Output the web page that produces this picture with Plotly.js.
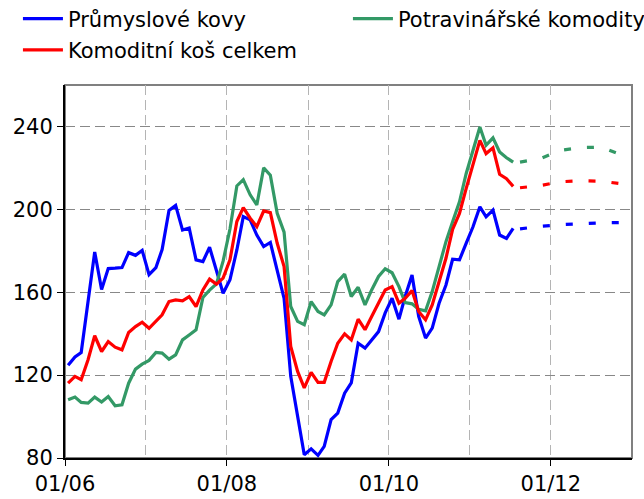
<!DOCTYPE html>
<html>
<head>
<meta charset="utf-8">
<script src="https://cdn.plot.ly/plotly-3.0.1.min.js"></script>
<style>html,body{margin:0;padding:0;background:#fff}#chart{width:644px;height:499px}</style>
</head>
<body>
<div id="chart"></div>
<script>
// Months of actual data (plotted mid-month)
const months = [
 "2006-01","2006-02","2006-03","2006-04","2006-05","2006-06","2006-07","2006-08","2006-09","2006-10","2006-11","2006-12",
 "2007-01","2007-02","2007-03","2007-04","2007-05","2007-06","2007-07","2007-08","2007-09","2007-10","2007-11","2007-12",
 "2008-01","2008-02","2008-03","2008-04","2008-05","2008-06","2008-07","2008-08","2008-09","2008-10","2008-11","2008-12",
 "2009-01","2009-02","2009-03","2009-04","2009-05","2009-06","2009-07","2009-08","2009-09","2009-10","2009-11","2009-12",
 "2010-01","2010-02","2010-03","2010-04","2010-05","2010-06","2010-07","2010-08","2010-09","2010-10","2010-11","2010-12",
 "2011-01","2011-02","2011-03","2011-04","2011-05","2011-06","2011-07"
];
// Průmyslové kovy
const kovy = [
 124.8,128.8,130.9,155.0,179.4,161.3,171.4,171.6,171.9,179.1,177.8,180.2,
 168.5,171.9,180.6,199.5,201.9,190.0,191.0,175.6,174.8,181.7,170.8,159.5,
 166.0,180.4,196.5,194.9,187.6,182.0,184.0,171.0,157.0,119.4,100.1,81.6,
 84.4,81.3,85.6,98.5,101.7,111.3,116.2,135.4,133.0,137.0,141.0,150.0,
 157.1,147.0,157.9,168.3,148.3,137.9,142.7,154.7,163.5,175.9,175.6,183.6,
 191.6,201.2,196.4,199.6,187.6,186.0,190.8
];
// Potravinářské komodity
const potraviny = [
 108.1,109.4,106.8,106.5,109.4,107.0,109.7,105.2,105.7,116.1,122.9,125.3,
 127.1,130.9,130.6,127.7,129.8,137.0,139.4,141.9,157.5,161.0,164.0,175.0,
 190.5,211.3,214.3,207.0,202.1,220.0,216.5,198.1,189.0,153.1,145.9,144.3,
 155.5,150.7,149.1,153.9,165.1,168.7,157.9,162.4,153.9,161.1,167.6,171.3,
 169.4,162.7,155.0,154.4,151.8,151.0,160.3,172.4,184.4,194.0,203.6,217.2,
 228.5,239.7,230.9,234.5,227.7,224.9,222.8
];
// Komoditní koš celkem
const kos = [
 116.1,119.4,117.8,127.4,139.0,131.4,136.2,133.5,132.2,140.6,143.4,145.5,
 142.6,146.2,149.1,155.5,156.3,155.8,157.9,153.1,161.1,166.3,163.9,166.8,
 175.6,194.1,200.8,195.7,191.6,199.2,198.4,183.6,172.4,133.8,121.8,113.8,
 121.3,116.5,116.5,126.6,135.4,139.9,137.0,147.0,141.9,148.3,154.7,161.1,
 162.7,154.7,157.1,160.8,150.7,146.7,153.9,165.1,176.4,190.3,198.0,210.0,
 222.0,233.3,226.9,229.7,216.9,214.8,211.1
];
// Forecast (dashed)
const fcMonths = ["2011-08","2011-11","2012-02","2012-05","2012-08","2012-11"];
const kovyFc = [190.6,191.8,192.6,193.2,193.5,193.6];
const potravinyFc = [222.8,224.5,228.5,229.8,230.0,226.2];
const kosFc = [210.4,211.5,213.3,213.8,213.6,212.3];

const names = ["Průmyslové kovy","Potravinářské komodity","Komoditní koš celkem"];
const colors = {kovy:"#0000FF", potraviny:"#339966", kos:"#FF0000"};

const mid = m => m + "-15";
const xs = months.map(mid);
const xf = fcMonths.map(mid);
const W = 3.2;
const dashPat = "7px,16px";

const traces = [
 {x: xs, y: kovy, name: names[0], mode:"lines", legend:"legend", legendgroup:"a", line:{color:colors.kovy, width:W}},
 {x: xs, y: potraviny, name: names[1], mode:"lines", legend:"legend2", legendgroup:"c", line:{color:colors.potraviny, width:W}},
 {x: xs, y: kos, name: names[2], mode:"lines", legend:"legend", legendgroup:"b", line:{color:colors.kos, width:W}},
 {x: xf, y: kovyFc, mode:"lines", showlegend:false, line:{color:colors.kovy, width:W, dash:dashPat}},
 {x: xf, y: potravinyFc, mode:"lines", showlegend:false, line:{color:colors.potraviny, width:W, dash:dashPat}},
 {x: xf, y: kosFc, mode:"lines", showlegend:false, line:{color:colors.kos, width:W, dash:dashPat}}
];

const F = "DejaVu Sans, Verdana, sans-serif";
const legBase = {
  orientation: "v", xanchor: "left", yanchor: "top", y: 1.232,
  font: {family: F, size: 21, color: "#000"},
  bgcolor: "rgba(0,0,0,0)", borderwidth: 0, itemwidth: 40,
  traceorder: "grouped", tracegroupgap: 1
};
const layout = {
 width: 644, height: 499,
 paper_bgcolor: "#fff", plot_bgcolor: "#fff",
 margin: {l: 65, r: 12, t: 85, b: 41, autoexpand: false},
 font: {family: F, size: 21, color: "#000"},
 showlegend: true,
 legend: Object.assign({}, legBase, {x: -0.083}),
 legend2: Object.assign({}, legBase, {x: 0.499}),
 xaxis: {
   type: "date", range: ["2006-01-01","2013-01-01"],
   tickformat: "%m/%y", dtick: "M24", tick0: "2006-01-01",
   ticks: "outside", ticklen: 6, tickcolor: "#000", tickwidth: 1,
   showline: true, linecolor: "#000", linewidth: 2,
   showgrid: true, gridcolor: "#b4b4b4", gridwidth: 1, griddash: "10px,5px",
   minor: {dtick: "M12", tick0: "2006-01-01", showgrid: true, gridcolor: "#b4b4b4", gridwidth: 1, griddash: "10px,5px", ticks: ""},
   zeroline: false, tickfont: {family: F, size: 21}
 },
 yaxis: {
   range: [80, 260], dtick: 40, tick0: 80,
   ticks: "outside", ticklen: 6, tickcolor: "#000", tickwidth: 1,
   showline: true, linecolor: "#000", linewidth: 2,
   showgrid: true, gridcolor: "#888", gridwidth: 1, griddash: "10px,5px",
   zeroline: false, tickfont: {family: F, size: 21}
 },
 shapes: [
   {type: "rect", xref: "paper", yref: "paper", x0: 0, x1: 1, y0: 0, y1: 1,
    line: {color: "#808080", width: 2}, layer: "below"}
 ]
};

Plotly.newPlot("chart", traces, layout, {displayModeBar: false, staticPlot: true});
</script>
</body>
</html>
